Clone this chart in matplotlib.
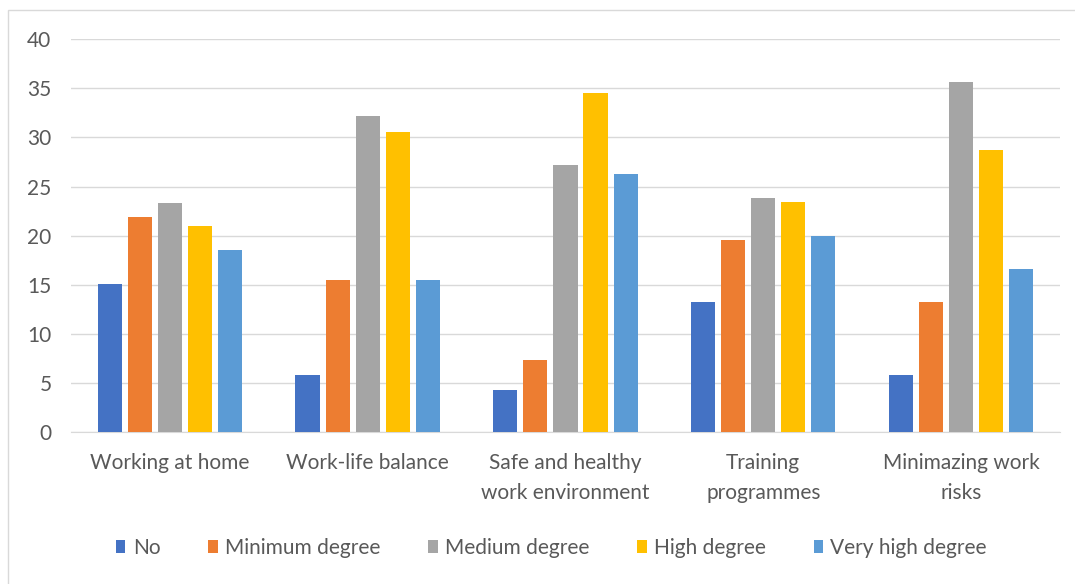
import matplotlib.pyplot as plt
import matplotlib.patches as mpatches
import numpy as np

categories = ["Working at home", "Work-life balance", "Safe and healthy\nwork environment",
              "Training\nprogrammes", "Minimazing work\nrisks"]
series_names = ["No", "Minimum degree", "Medium degree", "High degree", "Very high degree"]
no_vals = [15.1, 5.8, 4.3, 13.2, 5.8]
minimum_vals = [21.9, 15.5, 7.3, 19.6, 13.2]
medium_vals = [23.3, 32.2, 27.2, 23.8, 35.6]
high_vals = [21.0, 30.5, 34.5, 23.4, 28.7]
very_high_vals = [18.5, 15.5, 26.3, 20.0, 16.6]
y_ticks = [0, 5, 10, 15, 20, 25, 30, 35, 40]

colors = ["#4472C4", "#ED7D31", "#A5A5A5", "#FFC000", "#5B9BD5"]
font = ["Lato", "DejaVu Sans"]
text_color = "#595959"
fsize = 15

fig = plt.figure(figsize=(10.75, 5.84), dpi=100)
ax = fig.add_axes([0.066, 0.26, 0.92, 0.673])

x = np.arange(len(categories))
pitch = 0.152
width = 0.122
all_vals = [no_vals, minimum_vals, medium_vals, high_vals, very_high_vals]
for i, (name, vals) in enumerate(zip(series_names, all_vals)):
    ax.bar(x + (i - 2) * pitch, vals, width, color=colors[i], label=name, zorder=3)

ax.set_xlim(-0.5, len(categories) - 0.5)
ax.set_ylim(0, 40)
ax.set_yticks(y_ticks)
ax.yaxis.grid(True, color="#D9D9D9", linewidth=1, zorder=0)
ax.set_axisbelow(True)
for s in ["top", "right", "left"]:
    ax.spines[s].set_visible(False)
ax.spines["bottom"].set_color("#D9D9D9")
ax.tick_params(axis="both", length=0, colors=text_color, labelsize=fsize)
ax.tick_params(axis="y", pad=14)
ax.tick_params(axis="x", pad=15)
ax.set_xticks(x)
ax.set_xticklabels(categories, linespacing=1.65)
for lbl in ax.get_xticklabels() + ax.get_yticklabels():
    lbl.set_family(font)
    lbl.set_color(text_color)

leg = fig.legend(loc="center", bbox_to_anchor=(0.513, 0.062), ncol=5, frameon=False,
                 handlelength=0.45, handleheight=0.6, handletextpad=0.35, columnspacing=2.3,
                 prop={"family": font, "size": fsize})
for t in leg.get_texts():
    t.set_color(text_color)

border = mpatches.Rectangle((0.0075, -0.01), 1.0, 0.993, transform=fig.transFigure,
                            fill=False, edgecolor="#D9D9D9", linewidth=1)
fig.patches.append(border)

fig.savefig("out.png", dpi=100)
